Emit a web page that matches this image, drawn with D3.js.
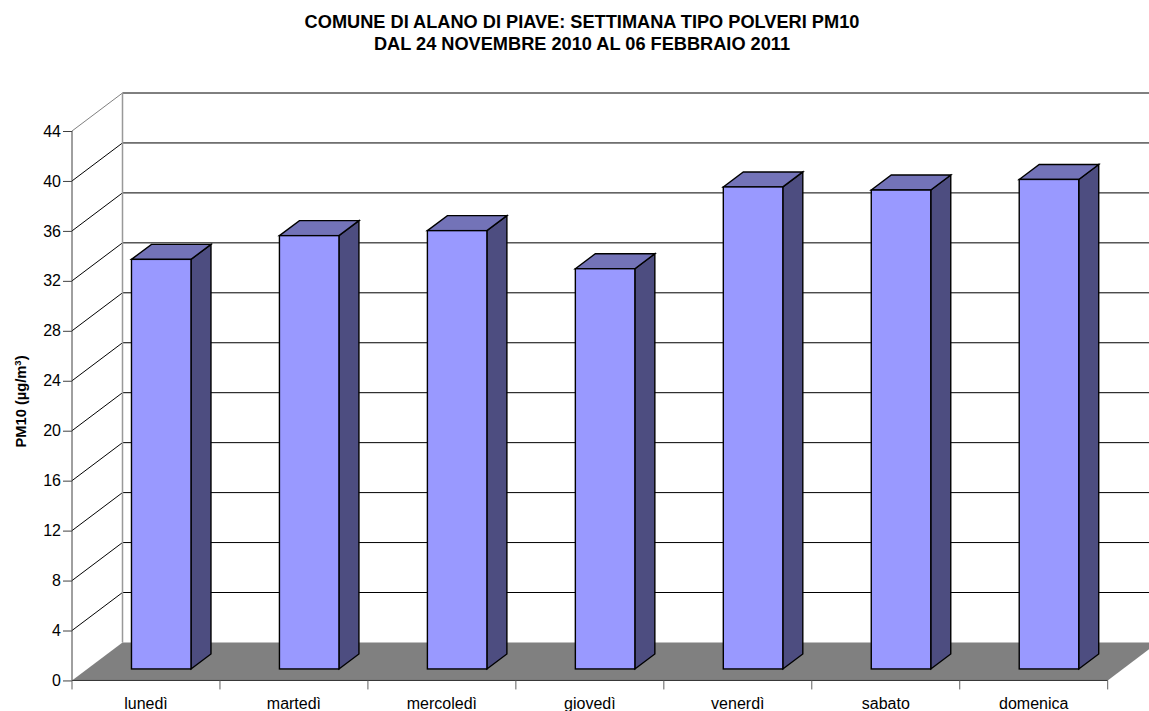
<!DOCTYPE html>
<html>
<head>
<meta charset="utf-8">
<script src="https://cdn.jsdelivr.net/npm/d3@7"></script>
<style>
    body { margin: 0; background: #fff; }
    svg { display: block; font-family: "Liberation Sans", Arial, sans-serif; }
    text { fill: #000; }
</style>
</head>
<body>
<div id="chart"></div>
<script>
    var days = ["lunedì", "martedì", "mercoledì", "giovedì", "venerdì", "sabato", "domenica"];
    var pm10 = [32.8, 34.7, 35.1, 32.05, 38.6, 38.35, 39.2];
    var yTicks = [0, 4, 8, 12, 16, 20, 24, 28, 32, 36, 40, 44];
    var titleLines = ["COMUNE DI ALANO DI PIAVE: SETTIMANA TIPO POLVERI PM10", "DAL 24 NOVEMBRE 2010 AL 06 FEBBRAIO 2011"];

    var width = 1149, height = 711;
    var depthX = 50.5, depthY = 38;      // floor depth
    var barDX = 20, barDY = 15;          // bar depth
    var gapDY = (depthY - barDY) / 2;    // front gap between floor edge and bar
    var gapDX = (depthX - barDX) / 2;

    var x = d3.scaleBand().domain(days).range([72, 1107.7]);
    var y = d3.scaleLinear().domain([0, 44]).range([680.45, 131]);
    var barW = 59.5;

    var svg = d3.select("#chart").append("svg").attr("width", width).attr("height", height);

    // title
    svg.append("g").selectAll("text").data(titleLines).enter().append("text")
        .attr("x", 582)
        .attr("y", function(d, i) { return 28.3 + i * 22; })
        .attr("text-anchor", "middle")
        .attr("font-size", 18.2)
        .attr("font-weight", "bold")
        .text(function(d) { return d; });

    // grid: back wall lines and side wall lines
    var grid = svg.append("g").attr("fill", "none");
    grid.selectAll("line.back").data(yTicks.slice(1)).enter().append("line")
        .attr("class", "back")
        .attr("x1", x.range()[0] + depthX).attr("x2", x.range()[1] + depthX)
        .attr("y1", function(d) { return y(d) - depthY; })
        .attr("y2", function(d) { return y(d) - depthY; })
        .attr("stroke", "#000")
        .attr("stroke-width", 1);
    grid.selectAll("line.side").data(yTicks.slice(1)).enter().append("line")
        .attr("class", "side")
        .attr("x1", x.range()[0]).attr("x2", x.range()[0] + depthX)
        .attr("y1", function(d) { return y(d); })
        .attr("y2", function(d) { return y(d) - depthY; })
        .attr("stroke", function(d) { return d === 44 ? "#808080" : "#000"; })
        .attr("stroke-width", 1);

    // back wall left edge
    grid.append("line")
        .attr("x1", x.range()[0] + depthX).attr("x2", x.range()[0] + depthX)
        .attr("y1", y(44) - depthY).attr("y2", y(0) - depthY)
        .attr("stroke", "#999").attr("stroke-width", 1.5);

    // floor
    svg.append("polygon")
        .attr("points", [
            [x.range()[0], y(0)],
            [x.range()[1], y(0)],
            [x.range()[1] + depthX, y(0) - depthY],
            [x.range()[0] + depthX, y(0) - depthY]
        ].join(" "))
        .attr("fill", "#808080");

    // bars
    var bars = svg.append("g").attr("stroke", "#000").attr("stroke-width", 1.4).attr("stroke-linejoin", "miter");
    function barLeft(d) { return x(d) + (x.bandwidth() - barW) / 2 + gapDX; }
    function barBase() { return y(0) - gapDY; }
    function barTop(v) { return barBase() - (y(0) - y(v)); }

    days.forEach(function(d, i) {
        var x0 = barLeft(d), x1 = x0 + barW, yb = barBase(), yt = barTop(pm10[i]);
        bars.append("polygon")
            .attr("points", [[x1, yb], [x1 + barDX, yb - barDY], [x1 + barDX, yt - barDY], [x1, yt]].join(" "))
            .attr("fill", "#4d4d80");
        bars.append("polygon")
            .attr("points", [[x0, yt], [x1, yt], [x1 + barDX, yt - barDY], [x0 + barDX, yt - barDY]].join(" "))
            .attr("fill", "#7373b8");
        bars.append("rect")
            .attr("x", x0).attr("y", yt).attr("width", barW).attr("height", yb - yt)
            .attr("fill", "#9999ff");
    });

    // axes
    var yAxis = d3.axisLeft(y).tickValues(yTicks).tickSize(9).tickPadding(2);
    var gy = svg.append("g").attr("transform", "translate(" + x.range()[0] + ",0)").call(yAxis);
    gy.selectAll("text").attr("font-size", 16).attr("font-family", "Liberation Sans");
    gy.selectAll("line,path").attr("stroke", "#404040").attr("stroke-width", 1);
    gy.select("path").attr("d", "M0," + y(44) + "V" + y(0));

    var xAxis = d3.axisBottom(x).tickSize(0).tickPadding(17);
    var gx = svg.append("g").attr("transform", "translate(0," + y(0) + ")").call(xAxis);
    gx.selectAll("text").attr("font-size", 16).attr("font-family", "Liberation Sans");
    gx.select("path").attr("stroke", "#303030").attr("d", "M" + x.range()[0] + ",0H" + x.range()[1]);
    gx.selectAll(".sep").data(days.concat(["end"])).enter().append("line")
        .attr("class", "sep")
        .attr("x1", function(d, i) { return x.range()[0] + i * x.bandwidth(); })
        .attr("x2", function(d, i) { return x.range()[0] + i * x.bandwidth(); })
        .attr("y1", 0).attr("y2", 9)
        .attr("stroke", "#606060");

    // y title
    var yLabel = svg.append("text")
        .attr("transform", "translate(26,401.5) rotate(-90)")
        .attr("text-anchor", "middle")
        .attr("font-size", 14.7)
        .attr("font-weight", "bold");
    yLabel.append("tspan").text("PM10 (µg/m");
    yLabel.append("tspan").attr("font-size", 9.5).attr("dy", -5).text("3");
    yLabel.append("tspan").attr("dy", 5).text(")");
</script>
</body>
</html>
